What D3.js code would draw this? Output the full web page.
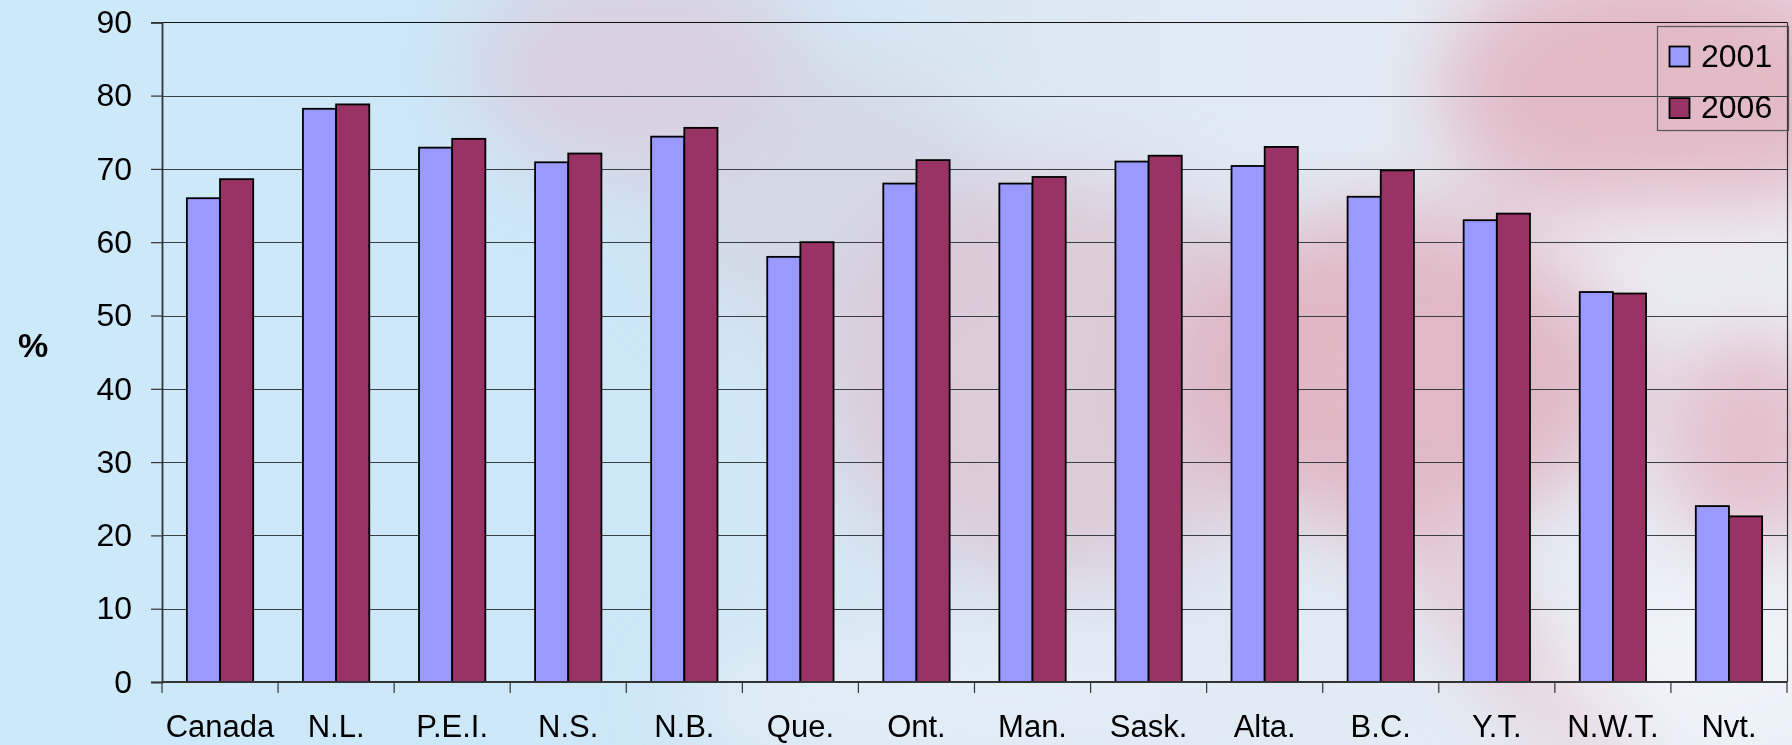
<!DOCTYPE html>
<html>
<head>
<meta charset="utf-8">
<script src="https://cdn.jsdelivr.net/npm/d3@7/dist/d3.min.js"></script>
<style>
  html, body { margin: 0; padding: 0; background: #cde9f9; }
  svg { display: block; }
  text { font-family: "Liberation Sans", Arial, sans-serif; fill: #000; }
</style>
</head>
<body>
<svg id="chart"></svg>
<script>
var width = 1792;
var height = 745;

var margin = {top: 22.3, right: 5, bottom: 63, left: 162};

// data
var regions = ["Canada", "N.L.", "P.E.I.", "N.S.", "N.B.", "Que.", "Ont.", "Man.", "Sask.", "Alta.", "B.C.", "Y.T.", "N.W.T.", "Nvt."];
var years = ["2001", "2006"];
var values2001 = [66.0, 78.2, 72.9, 70.9, 74.4, 58.0, 68.0, 68.0, 71.0, 70.4, 66.2, 63.0, 53.2, 24.0];
var values2006 = [68.6, 78.8, 74.1, 72.1, 75.6, 60.0, 71.2, 68.9, 71.8, 73.0, 69.8, 63.9, 53.0, 22.6];
var yTicks = [0, 10, 20, 30, 40, 50, 60, 70, 80, 90];
var colors = ["#9999ff", "#993366"];

var svg = d3.select("#chart")
    .attr("width", width)
    .attr("height", height);

// ---- background (faded flag look) ----
var defs = svg.append("defs");
var bg = defs.append("linearGradient").attr("id", "bgGrad")
    .attr("x1", "0").attr("y1", "0").attr("x2", "1").attr("y2", "0");
bg.append("stop").attr("offset", "0%").attr("stop-color", "#cce9fa");
bg.append("stop").attr("offset", "35%").attr("stop-color", "#cde7f7");
bg.append("stop").attr("offset", "60%").attr("stop-color", "#dde8f2");
bg.append("stop").attr("offset", "100%").attr("stop-color", "#eaeff7");

defs.append("filter").attr("id", "blur")
    .attr("x", "-50%").attr("y", "-50%").attr("width", "200%").attr("height", "200%")
    .append("feGaussianBlur").attr("stdDeviation", 40);

svg.append("rect")
    .attr("width", width)
    .attr("height", height)
    .attr("fill", "url(#bgGrad)");

var blobs = svg.append("g").attr("filter", "url(#blur)");
blobs.append("ellipse").attr("cx", 640).attr("cy", 70).attr("rx", 170).attr("ry", 110)
    .attr("fill", "#dccbdb").attr("opacity", 0.8);
blobs.append("ellipse").attr("cx", 830).attr("cy", 200).attr("rx", 170).attr("ry", 130)
    .attr("fill", "#d4d4e2").attr("opacity", 0.8);
blobs.append("ellipse").attr("cx", 1060).attr("cy", 380).attr("rx", 240).attr("ry", 200)
    .attr("fill", "#dcc6d4").attr("opacity", 0.85);
blobs.append("ellipse").attr("cx", 1400).attr("cy", 370).attr("rx", 230).attr("ry", 160)
    .attr("fill", "#e0b3c0").attr("opacity", 0.9);
blobs.append("ellipse").attr("cx", 1660).attr("cy", 90).attr("rx", 220).attr("ry", 140)
    .attr("fill", "#e2b0be").attr("opacity", 0.85);
blobs.append("ellipse").attr("cx", 1750).attr("cy", 440).attr("rx", 90).attr("ry", 110)
    .attr("fill", "#e2b3c0").attr("opacity", 0.8);
blobs.append("ellipse").attr("cx", 1680).attr("cy", 250).attr("rx", 150).attr("ry", 45)
    .attr("fill", "#eef0f6").attr("opacity", 0.9);
blobs.append("line").attr("x1", 1400).attr("y1", 520).attr("x2", 1620).attr("y2", 770)
    .attr("stroke", "#e4b4c2").attr("stroke-width", 55).attr("opacity", 0.85);
blobs.append("ellipse").attr("cx", 960).attr("cy", 700).attr("rx", 280).attr("ry", 65)
    .attr("fill", "#e4edf6").attr("opacity", 0.9);
blobs.append("ellipse").attr("cx", 1700).attr("cy", 660).attr("rx", 150).attr("ry", 90)
    .attr("fill", "#f0f3f8").attr("opacity", 0.9);

// ---- scales ----
var y = d3.scaleLinear()
    .domain([0, 90])
    .range([height - margin.bottom, margin.top]);

var x0 = d3.scaleBand()
    .domain(regions)
    .range([margin.left, width - margin.right])
    .paddingInner(1.5 / 3.5)
    .paddingOuter(0.75 / 3.5);

var x1 = d3.scaleBand()
    .domain(years)
    .range([0, x0.bandwidth()])
    .padding(0);

var boundary = d3.scaleLinear()
    .domain([0, regions.length])
    .range([margin.left, width - margin.right]);

var y0 = y(0);

// ---- gridlines ----
svg.append("g")
    .attr("class", "grid")
    .selectAll("line")
    .data(yTicks.filter(function(d) { return d > 0; }))
    .enter().append("line")
    .attr("x1", margin.left)
    .attr("x2", width - margin.right)
    .attr("y1", function(d) { return Math.round(y(d)) + 0.5; })
    .attr("y2", function(d) { return Math.round(y(d)) + 0.5; })
    .attr("stroke", function(d) { return d === 90 ? "#111" : "#3a3f45"; })
    .attr("stroke-width", 1.2);

// right border of plot area
svg.append("line")
    .attr("x1", width - margin.right + 0.5).attr("x2", width - margin.right + 0.5)
    .attr("y1", y(90)).attr("y2", y0)
    .attr("stroke", "#333").attr("stroke-width", 1.2);

// ---- bars ----
var data = regions.map(function(r, i) {
    return {region: r, vals: [{year: "2001", v: values2001[i]}, {year: "2006", v: values2006[i]}]};
});

svg.append("g")
    .selectAll("g")
    .data(data)
    .enter().append("g")
    .attr("transform", function(d) { return "translate(" + x0(d.region) + ",0)"; })
    .selectAll("rect")
    .data(function(d) { return d.vals; })
    .enter().append("rect")
    .attr("x", function(d) { return x1(d.year); })
    .attr("width", x1.bandwidth())
    .attr("y", function(d) { return y(d.v); })
    .attr("height", function(d) { return y0 - y(d.v); })
    .attr("fill", function(d, i) { return colors[i]; })
    .attr("stroke", "#000")
    .attr("stroke-width", 1.8);

// ---- y axis ----
var yAxis = svg.append("g")
    .attr("transform", "translate(" + margin.left + ",0)")
    .call(d3.axisLeft(y).tickValues(yTicks).tickSize(11).tickPadding(19));
yAxis.select(".domain").attr("stroke", "#333").attr("stroke-width", 1.8);
yAxis.selectAll(".tick line").attr("stroke", "#333").attr("stroke-width", 1.2);
yAxis.selectAll("text")
    .style("font-size", "32px")
    .style("font-family", "'Liberation Sans', Arial, sans-serif")
    .attr("fill", "#000");

// ---- x axis ----
var xAxis = svg.append("g");
xAxis.append("line")
    .attr("x1", margin.left).attr("x2", width - margin.right)
    .attr("y1", y0).attr("y2", y0)
    .attr("stroke", "#333").attr("stroke-width", 1.8);
xAxis.selectAll(".xtick")
    .data(d3.range(regions.length + 1))
    .enter().append("line")
    .attr("class", "xtick")
    .attr("x1", function(d) { return boundary(d); })
    .attr("x2", function(d) { return boundary(d); })
    .attr("y1", y0).attr("y2", y0 + 11)
    .attr("stroke", "#333").attr("stroke-width", 1.2);
xAxis.selectAll(".xlabel")
    .data(regions)
    .enter().append("text")
    .attr("class", "xlabel")
    .attr("x", function(d) { return x0(d) + x0.bandwidth() / 2; })
    .attr("y", 737)
    .attr("text-anchor", "middle")
    .style("font-size", "31px")
    .text(function(d) { return d; });

// ---- y label ----
svg.append("text")
    .attr("x", 33)
    .attr("y", 357)
    .attr("text-anchor", "middle")
    .style("font-size", "34px")
    .style("font-weight", "bold")
    .text("%");

// ---- legend ----
var legend = svg.append("g").attr("transform", "translate(1657,26)");
legend.append("rect")
    .attr("x", 0.5).attr("y", 0.5)
    .attr("width", 131).attr("height", 104)
    .attr("fill", "none")
    .attr("stroke", "#555")
    .attr("stroke-width", 1.2);
var items = legend.selectAll(".item")
    .data(years)
    .enter().append("g")
    .attr("class", "item")
    .attr("transform", function(d, i) { return "translate(0," + (i * 51.6) + ")"; });
items.append("rect")
    .attr("x", 12.5).attr("y", 20.5)
    .attr("width", 20).attr("height", 20)
    .attr("fill", function(d, i) { return colors[i]; })
    .attr("stroke", "#000")
    .attr("stroke-width", 1.8);
items.append("text")
    .attr("x", 44)
    .attr("y", 40.7)
    .style("font-size", "32px")
    .text(function(d) { return d; });
</script>
</body>
</html>
